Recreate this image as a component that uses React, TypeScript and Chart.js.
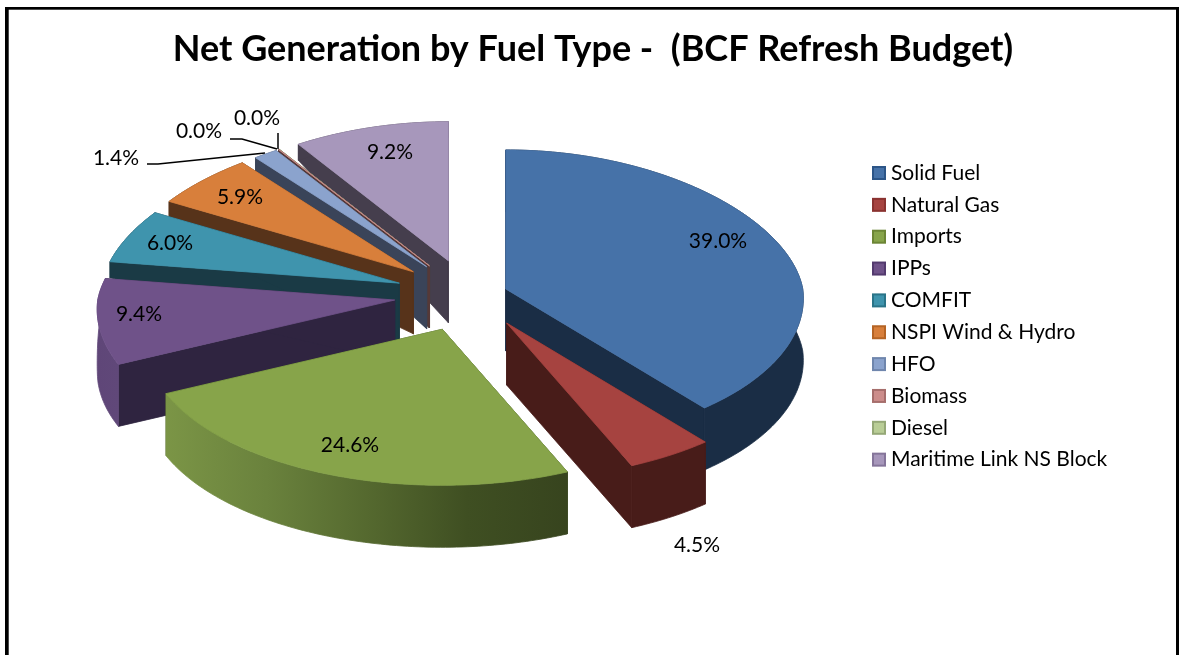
import React, { useEffect, useRef } from "react";
import { Chart, registerables } from "chart.js";

Chart.register(...registerables);

const titleText = "Net Generation by Fuel Type -  (BCF Refresh Budget)";
const categories = ["Solid Fuel", "Natural Gas", "Imports", "IPPs", "COMFIT", "NSPI Wind & Hydro", "HFO", "Biomass", "Diesel", "Maritime Link NS Block"];
const shares = [39.0, 4.5, 24.6, 9.4, 6.0, 5.9, 1.4, 0.03, 0.02, 9.2];
const explosions = [38, 70, 78, 76, 75, 75, 74, 74, 74, 76];

const topColors = ["#4672a8", "#a64340", "#87a44a", "#6f5289", "#3f94ad", "#d87f3b", "#8ba3cd", "#cc8d8b", "#b9cd96", "#a797bb"];
const sideColors = ["#1a2d45", "#481c19", "#3a4a1f", "#2f2440", "#1a3a45", "#57331a", "#3a4459", "#553a39", "#4d5540", "#453e4d"];
const legendBorders = ["#2c5587", "#8a3230", "#6c8535", "#533a6e", "#2a7488", "#b56425", "#6f86ad", "#a66e6c", "#95a877", "#85759a"];
const wallStops: Record<number, string[]> = {
  2: ["#7b9546", "#6a823d", "#55692f", "#3f4f22", "#37441e"],
  3: ["#5f4678", "#604879"],
};

const FONT = "Lato, 'Open Sans', sans-serif";
const LABEL_SIZE = 21;
const labelAnchors: [number, number][] = [
  [718, 241], [697, 545], [350, 445], [139, 314], [170, 243], [240, 197], [116, 158], [199, 131], [257, 118], [390, 152],
];
const leaders: Record<number, [number, number][]> = {
  6: [[147, 164], [158, 164], [265, 153]],
  7: [[230, 139], [242, 139], [277, 149]],
  8: [[278, 133], [278, 149]],
};

const CX = 470, CY = 295, RX = 297;
const LEG_X = 872, LEG_Y = 173, LEG_STEP = 31.85, LEG_BOX = 14, LEG_GAP = 5;

function smooth(a: number, b: number, x: number) {
  const t = Math.min(1, Math.max(0, (x - a) / (b - a)));
  return t * t * (3 - 2 * t);
}

function project(mid: number, k: number, f: number, th: number, dropped: boolean) {
  const ax = CX + k * Math.sin(mid);
  const ay = CY - k * Math.cos(mid) * 0.47;
  const u = f * Math.sin(th);
  const v = -f * Math.cos(th);
  const x = ax + RX * u * (1 + (v > 0 ? 0.062 : 0.09) * v);
  let y = ay + (v > 0 ? (150 + 6 * v) * v : 139 * v);
  if (dropped) {
    const deg = (th * 180) / Math.PI;
    y += 62 - 46 * smooth(262, 279, deg) * f;
  }
  return { x, y };
}

function poly(ctx: CanvasRenderingContext2D, pts: { x: number; y: number }[], fill: string | CanvasGradient) {
  ctx.beginPath();
  pts.forEach((p, i) => (i ? ctx.lineTo(p.x, p.y) : ctx.moveTo(p.x, p.y)));
  ctx.closePath();
  ctx.fillStyle = fill;
  ctx.strokeStyle = fill;
  ctx.lineWidth = 0.8;
  ctx.fill();
  ctx.stroke();
}

const pie3d = {
  id: "pie3d",
  beforeDraw(chart: any) {
    const { ctx } = chart;
    ctx.save();
    ctx.fillStyle = "#000";
    ctx.fillRect(5, 7, 3.7, 648);
    ctx.fillRect(5, 7, 1174, 2.7);
    ctx.fillRect(1176, 7, 3, 648);
    ctx.restore();
  },
  beforeDatasetDraw(chart: any) {
    const { ctx } = chart;
    const arcs = chart.getDatasetMeta(0).data;
    const slices = arcs.map((el: any, i: number) => {
      const p = el.getProps(["startAngle", "endAngle"], true);
      const start = p.startAngle + Math.PI / 2;
      const end = p.endAngle + Math.PI / 2;
      return { i, start, end, mid: (start + end) / 2, k: el.options.offset };
    });
    const apexY = (s: any) => project(s.mid, s.k, 0, 0, false).y;
    slices.sort((a: any, b: any) => apexY(a) - apexY(b));
    ctx.save();
    for (const s of slices) {
      const steps = Math.max(2, Math.ceil(((s.end - s.start) * 180) / Math.PI));
      const upper: { x: number; y: number }[] = [];
      const lower: { x: number; y: number }[] = [];
      for (let n = 0; n <= steps; n++) {
        const th = s.start + ((s.end - s.start) * n) / steps;
        upper.push(project(s.mid, s.k, 1, th, false));
        lower.push(project(s.mid, s.k, 1, th, true));
      }
      const apex = project(s.mid, s.k, 0, s.start, false);
      const apexLow = project(s.mid, s.k, 0, s.start, true);
      const side = sideColors[s.i];
      poly(ctx, [apex, upper[0], lower[0], apexLow], side);
      poly(ctx, [apex, upper[steps], lower[steps], apexLow], side);
      let wall: string | CanvasGradient = side;
      const stops = wallStops[s.i];
      if (stops) {
        const xs = upper.map((p) => p.x);
        const g = ctx.createLinearGradient(Math.min(...xs), 0, Math.max(...xs), 0);
        stops.forEach((c, n) => g.addColorStop(n / (stops.length - 1), c));
        wall = g;
      }
      poly(ctx, [...upper, ...lower.slice().reverse()], wall);
      poly(ctx, [apex, ...upper], topColors[s.i]);
    }
    ctx.restore();
    return false;
  },
  afterDatasetsDraw(chart: any) {
    const { ctx } = chart;
    ctx.save();
    ctx.strokeStyle = "#000";
    ctx.lineWidth = 1.5;
    Object.values(leaders).forEach((line) => {
      ctx.beginPath();
      line.forEach(([x, y], i) => (i ? ctx.lineTo(x, y) : ctx.moveTo(x, y)));
      ctx.stroke();
    });
    ctx.fillStyle = "#000";
    ctx.font = `${LABEL_SIZE}px ${FONT}`;
    ctx.textAlign = "center";
    ctx.textBaseline = "middle";
    shares.forEach((v, i) => {
      const [x, y] = labelAnchors[i];
      ctx.fillText(`${v.toFixed(1)}%`, x, y);
    });
    ctx.textAlign = "left";
    categories.forEach((name, i) => {
      const y = LEG_Y + i * LEG_STEP;
      ctx.fillStyle = topColors[i];
      ctx.strokeStyle = legendBorders[i];
      ctx.lineWidth = 2;
      ctx.fillRect(LEG_X + 1, y - LEG_BOX / 2 + 1, LEG_BOX - 2, LEG_BOX - 2);
      ctx.strokeRect(LEG_X + 1, y - LEG_BOX / 2 + 1, LEG_BOX - 2, LEG_BOX - 2);
      ctx.fillStyle = "#000";
      ctx.fillText(name, LEG_X + LEG_BOX + LEG_GAP, y);
    });
    ctx.restore();
  },
};

export default function App() {
  const ref = useRef<HTMLCanvasElement>(null);
  useEffect(() => {
    const chart = new Chart(ref.current!, {
      type: "pie",
      data: {
        labels: categories,
        datasets: [{ data: shares, backgroundColor: topColors, borderColor: legendBorders, offset: explosions, radius: 297 } as any],
      },
      options: {
        responsive: false,
        animation: false,
        layout: { padding: { left: 7, top: 28, right: 0, bottom: 0 } },
        plugins: {
          legend: { display: false },
          tooltip: { enabled: false },
          title: {
            display: true,
            text: titleText,
            color: "#000",
            font: { family: FONT, size: 36, weight: "bold" },
            padding: 0,
          },
        },
      },
      plugins: [pie3d],
    } as any);
    return () => chart.destroy();
  }, []);
  return (
    <div style={{ position: "absolute", left: 0, top: 0 }}>
      <canvas ref={ref} width={1179} height={655} style={{ display: "block" }} />
    </div>
  );
}
